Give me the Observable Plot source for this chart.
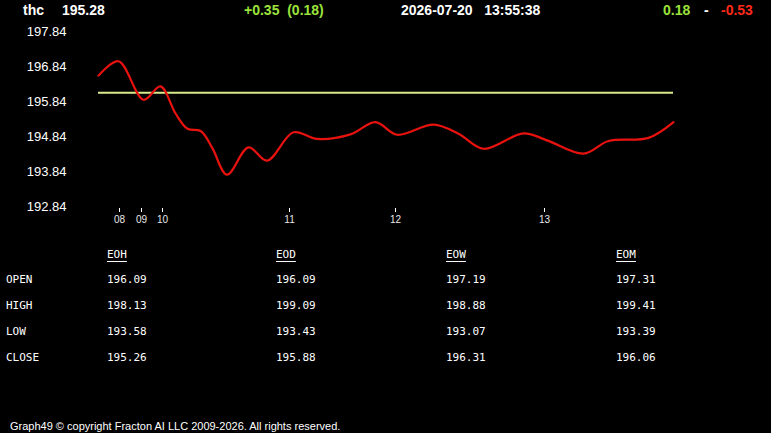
<!DOCTYPE html>
<html>
<head>
<meta charset="utf-8">
<script src="https://cdn.jsdelivr.net/npm/d3@7"></script>
<script src="https://cdn.jsdelivr.net/npm/@observablehq/plot@0.6"></script>
<style>
  html, body { margin: 0; padding: 0; background: #000; }
  #wrap { position: relative; width: 771px; height: 433px; background: #000; overflow: hidden; }
  .t { position: absolute; white-space: pre; line-height: 1; }
  .hdr { font: bold 14px "Liberation Sans", Arial, sans-serif; }
  .mono { font: 11px "DejaVu Sans Mono", monospace; color: #fff; }
  #chart { position: absolute; left: 0; top: 20px; }
</style>
</head>
<body>
<div id="wrap"><div id="chart"></div></div>
<script>
// ---- data ----
const symbol = "thc";
const lastPrice = "195.28";
const change = "+0.35  (0.18)";
const stamp = "2026-07-20   13:55:38";
const rangeUp = "0.18";
const rangeDown = "-0.53";

// sample index along the session, and price at that sample
const sampleIdx = [0, 4, 9, 12.4, 15.4, 17.8, 20.5, 22.8, 25.7, 30, 33.7, 39, 43.7, 50.4, 55.4, 59.7, 67, 72, 77, 85, 89.7, 97, 102, 110, 115];
const price     = [196.58, 196.99, 195.89, 196.27, 195.5, 195.06, 194.99, 194.5, 193.75, 194.53, 194.15, 194.96, 194.77, 194.9, 195.25, 194.89, 195.18, 194.92, 194.49, 194.93, 194.73, 194.35, 194.71, 194.8, 195.25];
const sessionEnd = 115;
const referenceLevel = 196.09;

const yTicks = [197.84, 196.84, 195.84, 194.84, 193.84, 192.84];
const xTickIdx = [4.2, 8.6, 12.8, 38.2, 59.4, 89.2];
const xTickLabels = ["08", "09", "10", "11", "12", "13"];

const tableCols = ["EOH", "EOD", "EOW", "EOM"];
const tableRows = ["OPEN", "HIGH", "LOW", "CLOSE"];
const openVals  = [196.09, 196.09, 197.19, 197.31];
const highVals  = [198.13, 199.09, 198.88, 199.41];
const lowVals   = [193.58, 193.43, 193.07, 193.39];
const closeVals = [195.26, 195.88, 196.31, 196.06];

const footer = "Graph49 \u00A9 copyright Fracton AI LLC 2009-2026. All rights reserved.";

// ---- chart ----
const series = sampleIdx.map((x, i) => ({x, y: price[i]}));
const labelOf = new Map(xTickIdx.map((d, i) => [d, xTickLabels[i]]));

const chart = Plot.plot({
  width: 771,
  height: 210,
  marginLeft: 98,
  marginRight: 98,
  marginTop: 11,
  marginBottom: 24,
  style: {background: "transparent", color: "#fff", fontFamily: "'Liberation Sans', Arial, sans-serif"},
  x: {domain: [0, sessionEnd], axis: null},
  y: {domain: [192.84, 197.84], axis: null},
  marks: [
    Plot.axisY({ticks: yTicks, label: null, tickSize: 0, tickPadding: 32, tickFormat: d => d.toFixed(2), fontSize: 13, fill: "#fff"}),
    Plot.axisX({ticks: xTickIdx, label: null, tickFormat: d => labelOf.get(d), tickSize: 4, tickPadding: 3, fontSize: 10, stroke: "#fff", fill: "#e8e8e8", dy: 2}),
    Plot.ruleY([referenceLevel], {x1: 0, x2: sessionEnd, stroke: "#d9ea8c", strokeWidth: 2}),
    Plot.line(series, {x: "x", y: "y", curve: "catmull-rom", stroke: "#e8120e", strokeWidth: 2.2})
  ]
});
document.getElementById("chart").appendChild(chart);

// ---- text helpers ----
const wrap = document.getElementById("wrap");
function put(text, x, cy, cls, fs, color, extra) {
  const d = document.createElement("div");
  d.className = "t " + cls;
  d.textContent = text;
  d.style.left = x + "px";
  d.style.top = (cy - 0.49 * fs) + "px";
  if (color) d.style.color = color;
  if (extra) Object.assign(d.style, extra);
  wrap.appendChild(d);
  return d;
}

// header
put(symbol, 23, 9, "hdr", 14, "#fff");
put(lastPrice, 62, 9, "hdr", 14, "#fff");
put(change, 244, 9, "hdr", 14, "#9be33b");
put(stamp, 401, 9, "hdr", 14, "#fff");
put(rangeUp, 663, 9, "hdr", 14, "#9be33b");
put("-", 704, 9, "hdr", 14, "#fff");
put(rangeDown, 721, 9, "hdr", 14, "#ff2a1a");

// table
const colX = [107, 276, 446, 616];
const rowY = [278.3, 304.2, 330.2, 356.6];
const rowVals = [openVals, highVals, lowVals, closeVals];
tableCols.forEach((c, j) => {
  put(c, colX[j], 253.3, "mono", 11, "#fff", {textDecoration: "underline", textUnderlineOffset: "3px"});
});
tableRows.forEach((r, i) => {
  put(r, 6, rowY[i], "mono", 11, "#fff");
  rowVals[i].forEach((v, j) => put(v.toFixed(2), colX[j], rowY[i], "mono", 11, "#fff"));
});

// footer
put(footer, 10, 425.5, "", 11, "#fff", {font: "11px 'Liberation Sans', Arial, sans-serif"});
</script>
</body>
</html>
